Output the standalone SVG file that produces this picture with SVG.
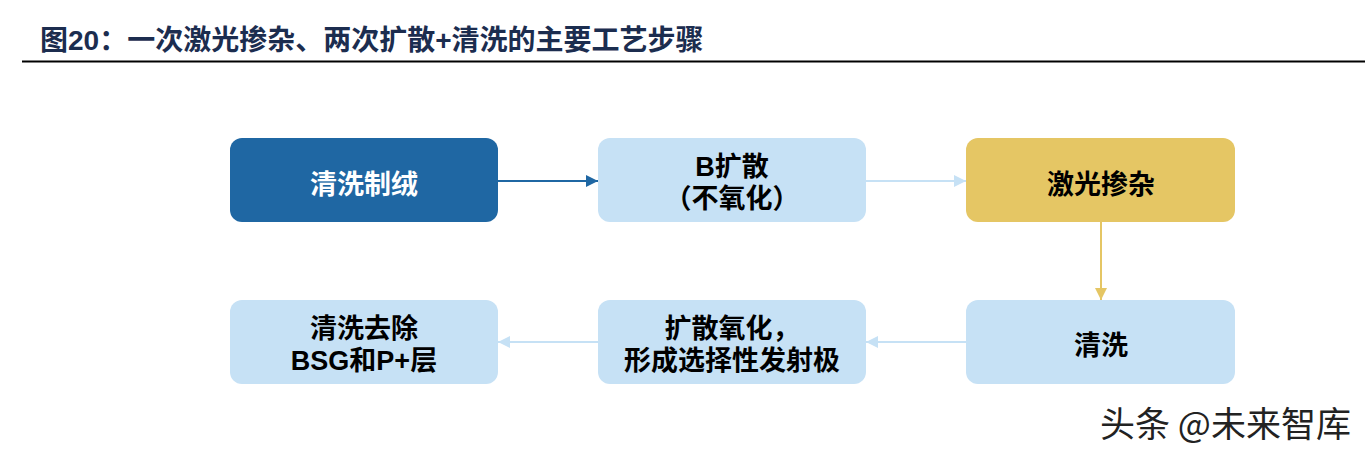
<svg xmlns="http://www.w3.org/2000/svg" width="1365" height="454" viewBox="0 0 1365 454">
<style>
.t{font-family:"Liberation Sans","Noto Sans CJK SC",sans-serif;font-weight:bold;font-size:27px;text-anchor:middle;fill:#000}
.title{font-family:"Liberation Sans","Noto Sans CJK SC",sans-serif;font-weight:bold;font-size:28px;fill:#1c2d4f}
.wm{font-family:"Noto Sans CJK SC",sans-serif;font-size:35px;fill:#222}
.lb{fill:#c6e1f5}
</style>
<defs>
<marker id="ad" markerWidth="12" markerHeight="12" refX="10" refY="5" orient="auto" markerUnits="userSpaceOnUse" viewBox="0 0 10 10"><path d="M0,0 L10,5 L0,10 z" fill="#1f67a3"/></marker>
<marker id="al" markerWidth="12" markerHeight="12" refX="10" refY="5" orient="auto" markerUnits="userSpaceOnUse" viewBox="0 0 10 10"><path d="M0,0 L10,5 L0,10 z" fill="#c6e1f5"/></marker>
<marker id="ag" markerWidth="12" markerHeight="12" refX="10" refY="5" orient="auto" markerUnits="userSpaceOnUse" viewBox="0 0 10 10"><path d="M0,0 L10,5 L0,10 z" fill="#e5c664"/></marker>
</defs>
<rect width="1365" height="454" fill="#fff"/>
<text class="title" x="40" y="50">图20：一次激光掺杂、两次扩散+清洗的主要工艺步骤</text>
<line x1="22" y1="61.5" x2="1365" y2="61.5" stroke="#000" stroke-width="2"/>
<g id="connectors" stroke-width="2" fill="none">
<line x1="498" y1="181" x2="598" y2="181" stroke="#1f67a3" marker-end="url(#ad)"/>
<line x1="866" y1="181" x2="966" y2="181" stroke="#c6e1f5" marker-end="url(#al)"/>
<line x1="1101" y1="222" x2="1101" y2="300" stroke="#e5c664" marker-end="url(#ag)"/>
<line x1="966" y1="342" x2="866" y2="342" stroke="#c6e1f5" marker-end="url(#al)"/>
<line x1="598" y1="342" x2="498" y2="342" stroke="#c6e1f5" marker-end="url(#al)"/>
</g>
<g id="n1"><rect x="230" y="138" width="268" height="84" rx="12" fill="#1f67a3"/><text class="t" x="364" y="194" style="fill:#fff">清洗制绒</text></g>
<g id="n2"><rect class="lb" x="598" y="138" width="268" height="84" rx="12"/><text class="t" x="732" y="176">B扩散</text><text class="t" x="732" y="208">（不氧化）</text></g>
<g id="n3"><rect x="966" y="138" width="269" height="84" rx="12" fill="#e5c664"/><text class="t" x="1101" y="194">激光掺杂</text></g>
<g id="n4"><rect class="lb" x="966" y="300" width="269" height="84" rx="12"/><text class="t" x="1101" y="355">清洗</text></g>
<g id="n5"><rect class="lb" x="598" y="300" width="268" height="84" rx="12"/><text class="t" x="732" y="338">扩散氧化，</text><text class="t" x="732" y="370">形成选择性发射极</text></g>
<g id="n6"><rect class="lb" x="230" y="300" width="268" height="84" rx="12"/><text class="t" x="364" y="338">清洗去除</text><text class="t" x="364" y="370">BSG和P+层</text></g>
<text class="wm" x="1100" y="437">头条 @未来智库</text>
</svg>
